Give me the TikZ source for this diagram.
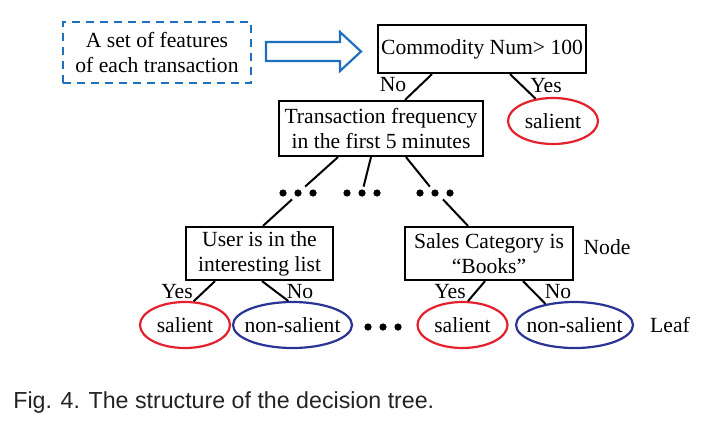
\documentclass[tikz,border=0pt]{standalone}
\usepackage{fontspec}
\setmainfont{Liberation Serif}
\newfontfamily\capfont{Liberation Sans}
\usetikzlibrary{calc,shapes.geometric}
\definecolor{featblue}{RGB}{30,112,190}
\definecolor{leafred}{RGB}{228,32,44}
\definecolor{leafblue}{RGB}{42,52,148}
\definecolor{capgray}{RGB}{35,35,35}
\newcommand{\lf}[1]{\makebox[0pt]{#1}}

\begin{document}
\begin{tikzpicture}[
    x=0.5pt, y=-0.5pt,
    font={\fontsize{10.8pt}{12.5pt}\selectfont},
    box/.style={draw, line width=1.1pt, inner sep=0pt, minimum height=26.5pt, align=center},
    feat/.style={draw=featblue, dashed, dash pattern=on 4pt off 3pt, line width=1pt, inner sep=0pt, minimum width=94pt, minimum height=30.5pt, align=center},
    fatarrow/.style={draw=featblue, line width=1.1pt, line join=miter},
    leaf/.style={ellipse, line width=1.1pt, inner sep=0pt, minimum height=23pt},
    salient/.style={leaf, draw=leafred, minimum width=45pt},
    nonsal/.style={leaf, draw=leafblue},
    dots/.style={inner sep=0pt, minimum width=19pt, minimum height=6pt,
        path picture={\foreach \k in {-1,0,1} \fill ([xshift=\k*7.5pt]path picture bounding box.center) circle[radius=1.8pt];}},
    edge/.style={line width=1pt}
]
\useasboundingbox (0,0) rectangle (705,429);

% input and root
\node[feat] (feat) at (157,52.5) {A set of features\\of each transaction};
\node[box, minimum width=104pt, minimum height=24pt] (root) at (482,49) {Commodity Num> 100};
\draw[fatarrow] (266,42) -- (340,42) -- (340,32) -- (361,51.5) -- (340,71) -- (340,61) -- (266,61) -- cycle;
\node[salient] (s0) at (553,121) {\lf{salient}};
\node[box, minimum width=102pt, minimum height=27.5pt] (freq) at (381,128.5) {Transaction frequency\\in the first 5 minutes};
\node (no0) at (393,85) {No};
\node (yes0) at (546,86) {Yes};

% middle
\node[dots] (d1) at (298,193) {};
\node[dots] (d2) at (362,193) {};
\node[dots] (d3) at (435,193) {};
\node[box, minimum width=73.5pt] (user) at (259.5,253.5) {User is in the\\interesting list};
\node[box, minimum width=84pt] (sales) at (489,253.5) {Sales Category is\\``Books''};
\node (nodetag) at (607,247) {Node};

% leaves
\node[salient] (l1) at (185,325) {\lf{salient}};
\node[nonsal, minimum width=59.5pt] (l2) at (292.5,325) {\lf{non-salient}};
\node[dots] (d4) at (383,327) {};
\node[salient] (l3) at (462.5,325) {\lf{salient}};
\node[nonsal, minimum width=58.5pt] (l4) at (574.5,325) {\lf{non-salient}};
\node (leaftag) at (670,325) {Leaf};
\node (yes1) at (177,292) {Yes};
\node (no1) at (300,292) {No};
\node (yes2) at (450,292) {Yes};
\node (no2) at (558,292) {No};

\draw[edge] ($(root.south)+(-50,0)$) -- ($(freq.north)+(24,0)$);
\draw[edge] ($(root.south)+(28,0)$) -- (s0.128);
\draw[edge] ($(freq.south)+(-43,0)$) -- (d1);
\draw[edge] ($(freq.south)+(-10,0)$) -- (d2);
\draw[edge] ($(freq.south)+(25,0)$) -- (d3);
\draw[edge] ($(d1.south)+(-6,0)$) -- ($(user.north)+(3.5,0)$);
\draw[edge] ($(d3.south)+(8,0)$) -- ($(sales.north)+(-21,0)$);
\draw[edge] ($(user.south)+(-44.5,0)$) -- (l1.70);
\draw[edge] ($(user.south)+(2.5,0)$) -- (l2.100);
\draw[edge] ($(sales.south)+(-4,0)$) -- (l3.77);
\draw[edge] ($(sales.south)+(34,0)$) -- (l4.144);

\node[anchor=west, inner sep=0pt, text=capgray, font={\capfont\fontsize{11.6pt}{14pt}\selectfont}] (cap) at (13,402) {Fig. 4. The structure of the decision tree.};
\end{tikzpicture}
\end{document}
